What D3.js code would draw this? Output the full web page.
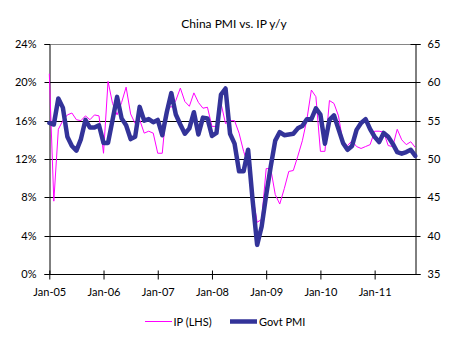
<!DOCTYPE html>
<html>
<head>
<meta charset="utf-8">
<script src="https://cdn.jsdelivr.net/npm/d3@7"></script>
<style>
  html, body { margin: 0; padding: 0; background: #fff; }
  svg text { font-family: Lato, "Open Sans", sans-serif; fill: #000; }
</style>
</head>
<body>
<svg id="chart" width="454" height="340"></svg>
<script>
// ---- data ----
const startMonth = new Date(2005, 0, 1);
const ipValues = [
  20.9, 7.6, 15.1, 16.0, 16.6, 16.8, 16.1, 16.0, 16.5, 16.1, 16.6, 16.5,
  12.6, 20.1, 17.8, 16.6, 17.9, 19.5, 16.7, 15.7, 16.1, 14.7, 14.9, 14.7,
  12.6, 12.6, 17.6, 17.4, 18.1, 19.4, 18.0, 17.5, 18.9, 17.9, 17.3, 17.4,
  15.4, 15.4, 17.8, 15.7, 16.0, 16.0, 14.7, 12.8, 11.4, 8.2, 5.4, 5.7,
  11.0, 11.0, 8.3, 7.3, 8.9, 10.7, 10.8, 12.3, 13.9, 16.1, 19.2, 18.5,
  12.8, 12.8, 18.1, 17.8, 16.5, 13.7, 13.4, 13.9, 13.3, 13.1, 13.3, 13.5,
  14.9, 14.9, 14.8, 13.4, 13.3, 15.1, 14.0, 13.5, 13.8, 13.2
];
const pmiValues = [
  54.7, 54.5, 57.9, 56.7, 52.9, 51.7, 51.1, 52.6, 55.1, 54.1, 54.1, 54.4,
  52.1, 52.1, 55.1, 58.1, 55.3, 54.4, 52.6, 52.9, 56.8, 55.0, 55.2, 54.8,
  55.1, 53.1, 56.1, 58.6, 55.8, 54.5, 53.3, 54.0, 56.1, 53.2, 55.4, 55.3,
  53.0, 53.4, 58.4, 59.2, 53.3, 52.0, 48.4, 48.4, 51.2, 44.6, 38.8, 41.2,
  45.3, 49.0, 52.4, 53.5, 53.1, 53.2, 53.3, 54.0, 54.3, 55.2, 55.2, 56.6,
  55.8, 52.0, 55.1, 55.7, 53.9, 52.1, 51.2, 51.7, 53.8, 54.7, 55.2, 53.9,
  52.9, 52.2, 53.4, 52.9, 52.0, 50.9, 50.7, 50.9, 51.2, 50.4
];
const categories = ipValues.map((_, i) => d3.timeMonth.offset(startMonth, i));
const xTickLabels = ["Jan-05", "Jan-06", "Jan-07", "Jan-08", "Jan-09", "Jan-10", "Jan-11"];
const leftTicks = [0, 4, 8, 12, 16, 20, 24];
const rightTicks = [35, 40, 45, 50, 55, 60, 65];
const seriesNames = ["IP (LHS)", "Govt PMI"];
const title = "China PMI vs. IP y/y";

// ---- layout ----
const L = 49.3, R = 415.3, T = 44, B = 274;
const svg = d3.select("#chart");

const x = d3.scalePoint().domain(d3.range(categories.length)).range([L, R]);
const yL = d3.scaleLinear().domain([0, 24]).range([B, T]);
const yR = d3.scaleLinear().domain([35, 65]).range([B, T]);

// title
svg.append("text").attr("x", 234).attr("y", 28).attr("text-anchor", "middle")
  .style("font-size", "12px").text(title);

// gridlines
svg.append("g").selectAll("line").data(leftTicks.filter(d => d > 0))
  .join("line")
  .attr("x1", L).attr("x2", R)
  .attr("y1", d => Math.round(yL(d)) + 0.5).attr("y2", d => Math.round(yL(d)) + 0.5)
  .attr("stroke", d => d === 24 ? "#868686" : "#000").attr("stroke-width", 1);

// left axis
const gL = svg.append("g").attr("transform", `translate(${Math.round(L) + 0.5},0)`)
  .call(d3.axisLeft(yL).tickValues(leftTicks).tickSize(5).tickPadding(8)
    .tickFormat(d => d + "%"));
gL.select(".domain").attr("stroke", "#000");
gL.selectAll(".tick line").attr("stroke", "#000");
gL.selectAll(".tick").attr("transform", d => `translate(0,${Math.round(yL(d)) + 0.5})`);
gL.selectAll("text").style("font-size", "11px").attr("dy", "0.35em");

// right axis
const gR = svg.append("g").attr("transform", `translate(${Math.round(R) + 0.5},0)`)
  .call(d3.axisRight(yR).tickValues(rightTicks).tickSize(5).tickPadding(7));
gR.select(".domain").attr("stroke", "#000");
gR.selectAll(".tick line").attr("stroke", "#000").attr("x1", -5);
gR.selectAll(".tick").attr("transform", d => `translate(0,${Math.round(yR(d)) + 0.5})`);
gR.selectAll("text").style("font-size", "11px").attr("dy", "0.35em");

// bottom axis
const tickIdx = xTickLabels.map((_, k) => k * 12);
const gB = svg.append("g").attr("transform", `translate(0,${B + 0.5})`)
  .call(d3.axisBottom(x).tickValues(tickIdx).tickSize(5).tickPadding(9)
    .tickFormat((d, k) => xTickLabels[k]));
gB.select(".domain").attr("stroke", "#000").attr("d", `M${L},0H${R}`);
gB.selectAll(".tick line").attr("stroke", "#000").attr("y1", -4);
gB.selectAll("text").style("font-size", "11px");

// lines
const ipLine = d3.line().x((d, i) => x(i)).y(d => yL(d));
const pmiLine = d3.line().x((d, i) => x(i)).y(d => yR(d));

svg.append("path").datum(ipValues).attr("d", ipLine)
  .attr("fill", "none").attr("stroke", "#FF00FF").attr("stroke-width", 1)
  .attr("stroke-linejoin", "round");
svg.append("path").datum(pmiValues).attr("d", pmiLine)
  .attr("fill", "none").attr("stroke", "#333399").attr("stroke-width", 4.5)
  .attr("stroke-linejoin", "round").attr("stroke-linecap", "round");

// legend
const lg = svg.append("g");
lg.append("line").attr("x1", 145).attr("x2", 172).attr("y1", 321.5).attr("y2", 321.5)
  .attr("stroke", "#FF00FF").attr("stroke-width", 1);
lg.append("text").attr("x", 173.5).attr("y", 326).style("font-size", "11px").text(seriesNames[0]);
lg.append("line").attr("x1", 230).attr("x2", 257).attr("y1", 321.5).attr("y2", 321.5)
  .attr("stroke", "#333399").attr("stroke-width", 4.5);
lg.append("text").attr("x", 259).attr("y", 326).style("font-size", "11px").text(seriesNames[1]);
</script>
</body>
</html>
